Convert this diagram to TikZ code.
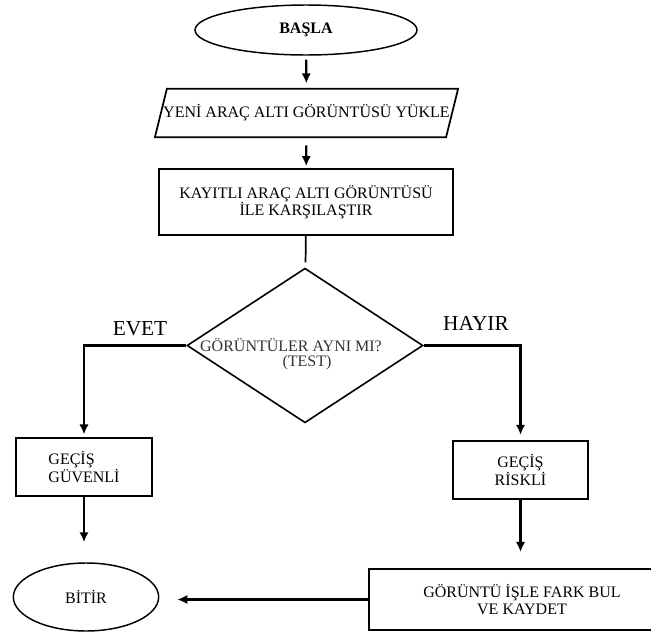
\documentclass[tikz,border=0pt]{standalone}
\usepackage{fontspec}
\setmainfont{Liberation Serif}
\usetikzlibrary{positioning,shapes.geometric,arrows.meta,calc}
\tikzset{>={Latex[length=7.5pt,width=7pt]}}
\tikzset{basefont/.style={font=\fontsize{12}{13}\selectfont}}
\tikzset{termnode/.style={ellipse,draw,line width=1.1pt,inner sep=0pt,basefont}}
\tikzset{procnode/.style={rectangle,draw,line width=1.3pt,inner sep=0pt,align=center,basefont}}
\tikzset{ionode/.style={rectangle,inner sep=0pt,basefont}}
\tikzset{decnode/.style={diamond,draw,line width=1.2pt,inner sep=0pt}}
\tikzset{flowedge/.style={->,line width=1.6pt}}
\tikzset{branchtext/.style={font=\fontsize{16}{18}\selectfont}}

\begin{document}
\begin{tikzpicture}[x=0.75pt, y=-0.75pt]
    \clip (0,0) rectangle (651,632);
    % steps
    \node[termnode, minimum width=166.5pt, minimum height=37.5pt, font=\fontsize{12}{13}\selectfont\bfseries] (start) at (306,30) {BAŞLA};
    \node[ionode, minimum width=227pt, minimum height=36pt] (load) at (306.5,113) {YENİ ARAÇ ALTI GÖRÜNTÜSÜ YÜKLE};
    \draw[line width=1.3pt] ($(load.north west)+(12,0)$) -- (load.north east) -- ($(load.south east)+(-12,0)$) -- (load.south west) -- cycle;
    \node[procnode, minimum width=220.5pt, minimum height=49.5pt] (compare) at (306,202) {KAYITLI ARAÇ ALTI GÖRÜNTÜSÜ\\İLE KARŞILAŞTIR};
    \node[decnode, minimum width=177pt, minimum height=116pt] (test) at (305,345.5) {};
    \node[basefont, text=black!80] (question) at (291,345) {GÖRÜNTÜLER AYNI MI?};
    \node[basefont, text=black!80] (testtag) at (307,363) {(TEST)};
    \node[procnode, align=left, minimum width=102pt, minimum height=43.5pt, font=\fontsize{12}{13.5}\selectfont] (safe) at (84,467) {GEÇİŞ\\GÜVENLİ};
    \node[procnode, minimum width=101pt, minimum height=43.5pt, font=\fontsize{12}{13}\selectfont] (risky) at (520.5,470) {GEÇİŞ\\RİSKLİ};
    \node[termnode, minimum width=109pt, minimum height=51pt] (finish) at (86,597) {BİTİR};
    \node[procnode, minimum width=229.5pt, minimum height=46pt] (savebox) at (522,599.5) {GÖRÜNTÜ İŞLE FARK BUL\\VE KAYDET};
    % connectors
    \draw[flowedge, shorten <=3pt, shorten >=4pt] (start) -- (load);
    \draw[flowedge, shorten <=6pt, shorten >=1.5pt] (load) -- (compare);
    \draw[line width=1.3pt, shorten >=4pt] (compare) -- (test);
    \draw[flowedge, shorten >=2pt] (test.west) -| (safe.north);
    \draw[flowedge, shorten >=4pt] (test.east) -| (risky.north);
    \draw[flowedge, shorten >=15pt] (safe.south) -- (safe.south |- finish.north);
    \draw[flowedge, shorten >=12pt] (risky.south) -- (risky.south |- savebox.north);
    \draw[flowedge, shorten >=13.5pt] (savebox.west) -- (savebox.west -| finish.east);
    \node[branchtext] (yes) at (140,329) {EVET};
    \node[branchtext] (no) at (476,323) {HAYIR};
\end{tikzpicture}
\end{document}
